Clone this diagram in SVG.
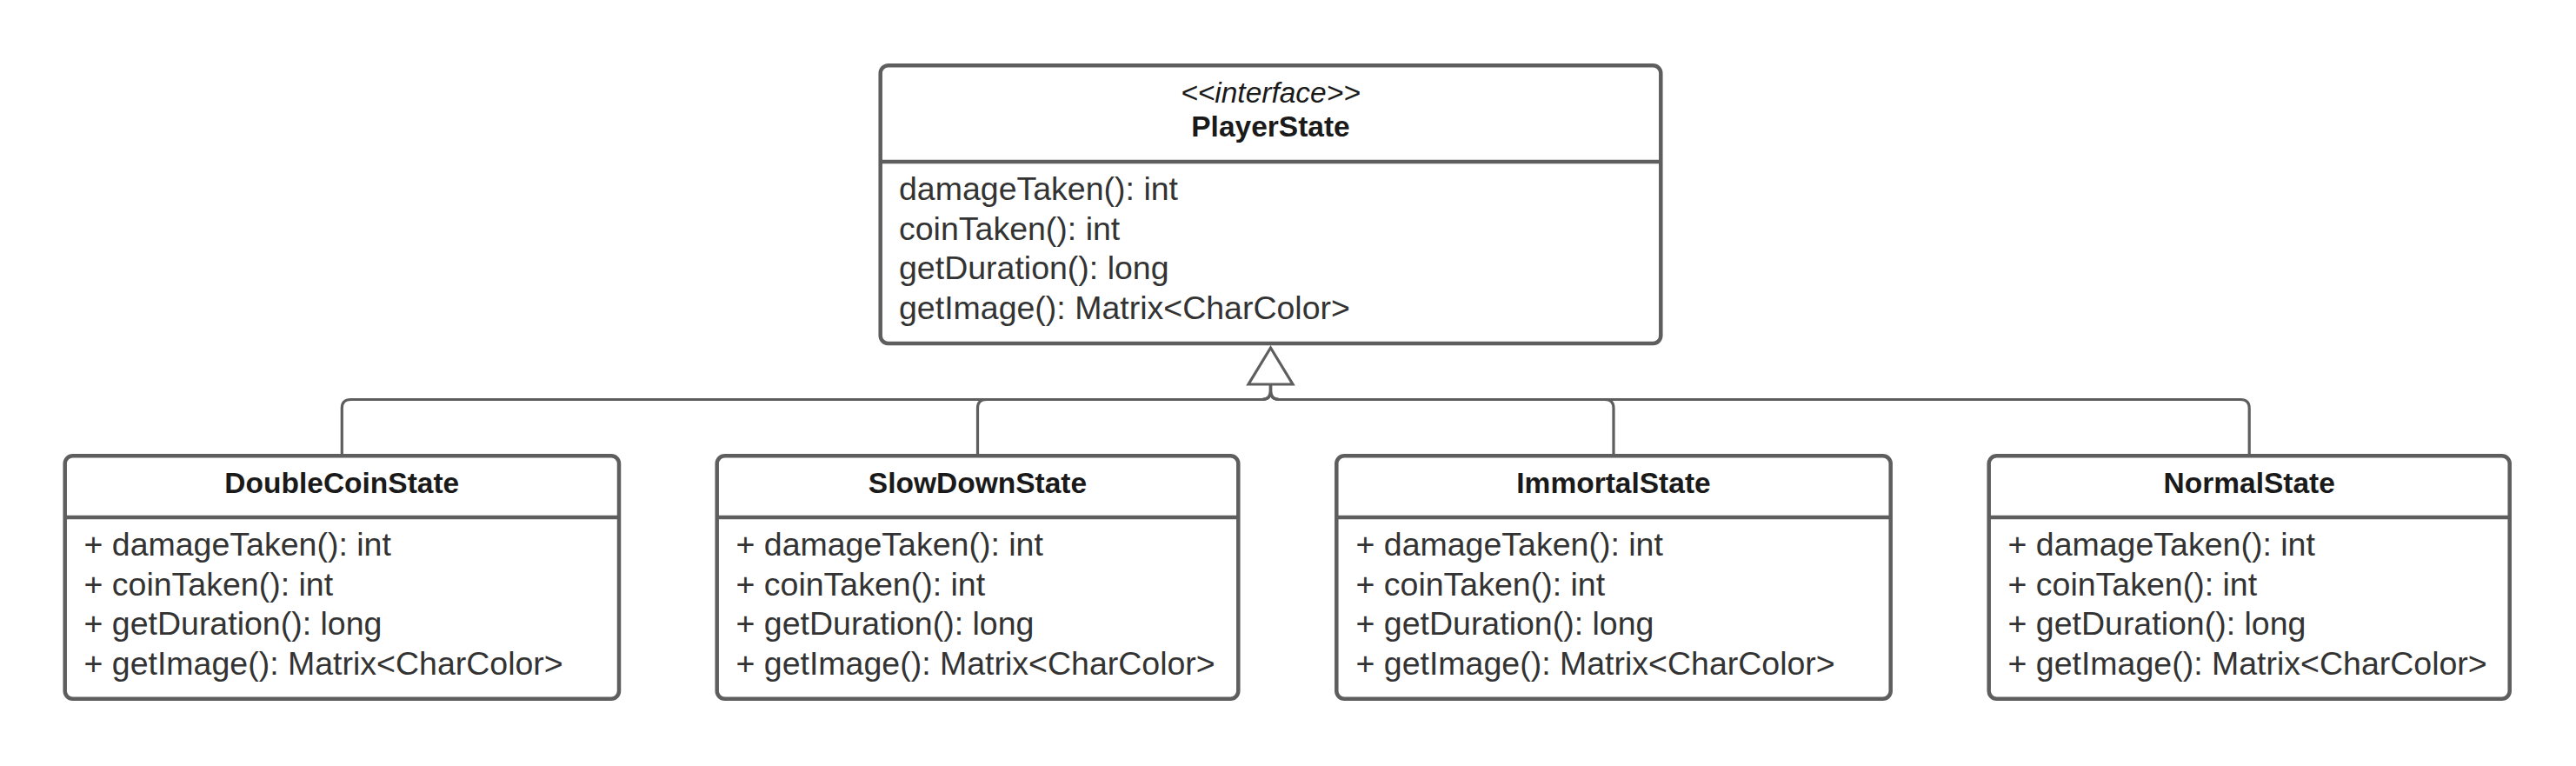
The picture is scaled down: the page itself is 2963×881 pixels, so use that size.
<svg xmlns="http://www.w3.org/2000/svg" width="2963" height="881" viewBox="0 0 2963 881">
<style>
.box{fill:#fff;stroke:#5e5e5e;stroke-width:4.5}
.div{stroke:#5e5e5e;stroke-width:4.5}
.conn{fill:none;stroke:#5e5e5e;stroke-width:3.2}
.tri{fill:#fff;stroke:#5e5e5e;stroke-width:3.2;stroke-linejoin:miter}
.t{font-family:"Liberation Sans",Arial,sans-serif;font-size:37.5px;fill:#333}
.h{font-family:"Liberation Sans",Arial,sans-serif;font-size:33.5px;font-weight:bold;fill:#1a1a1a;text-anchor:middle}
.s{font-family:"Liberation Sans",Arial,sans-serif;font-size:33.5px;font-style:italic;fill:#1a1a1a;text-anchor:middle}
</style>
<rect width="2963" height="881" fill="#fff"/>
<g id="connectors">
<path class="conn" d="M393.3 524 V469.5 Q393.3 459.5 403.3 459.5 H1451.5 Q1461.5 459.5 1461.5 449.5 V442"/>
<path class="conn" d="M1124.5 524 V469.5 Q1124.5 459.5 1134.5 459.5 H1451.5 Q1461.5 459.5 1461.5 449.5 V442"/>
<path class="conn" d="M1856 524 V469.5 Q1856 459.5 1846 459.5 H1471.5 Q1461.5 459.5 1461.5 449.5 V442"/>
<path class="conn" d="M2587.2 524 V469.5 Q2587.2 459.5 2577.2 459.5 H1471.5 Q1461.5 459.5 1461.5 449.5 V442"/>
<polygon class="tri" points="1461.5,400 1436,442 1487,442"/>
</g>
<g id="PlayerState">
<rect class="box" x="1012.7" y="75.3" width="897.6" height="319.7" rx="9"/>
<line class="div" x1="1012.7" y1="186" x2="1910.3" y2="186"/>
<text class="s" x="1461.5" y="117.5">&lt;&lt;interface&gt;&gt;</text>
<text class="h" x="1461.5" y="157">PlayerState</text>
<text class="t" x="1034" y="230">damageTaken(): int</text>
<text class="t" x="1034" y="275.5">coinTaken(): int</text>
<text class="t" x="1034" y="321">getDuration(): long</text>
<text class="t" x="1034" y="366.5">getImage(): Matrix&lt;CharColor&gt;</text>
</g>
<g id="DoubleCoinState">
<rect class="box" x="74.7" y="524.3" width="637.3" height="279.4" rx="9"/>
<line class="div" x1="74.7" y1="595" x2="712" y2="595"/>
<text class="h" x="393.3" y="567">DoubleCoinState</text>
<text class="t" x="96.5" y="639">+ damageTaken(): int</text>
<text class="t" x="96.5" y="684.5">+ coinTaken(): int</text>
<text class="t" x="96.5" y="730">+ getDuration(): long</text>
<text class="t" x="96.5" y="775.5">+ getImage(): Matrix&lt;CharColor&gt;</text>
</g>
<g id="SlowDownState">
<rect class="box" x="824.7" y="524.3" width="599.6" height="279.4" rx="9"/>
<line class="div" x1="824.7" y1="595" x2="1424.3" y2="595"/>
<text class="h" x="1124.5" y="567">SlowDownState</text>
<text class="t" x="846.5" y="639">+ damageTaken(): int</text>
<text class="t" x="846.5" y="684.5">+ coinTaken(): int</text>
<text class="t" x="846.5" y="730">+ getDuration(): long</text>
<text class="t" x="846.5" y="775.5">+ getImage(): Matrix&lt;CharColor&gt;</text>
</g>
<g id="ImmortalState">
<rect class="box" x="1537.3" y="524.3" width="637.4" height="279.4" rx="9"/>
<line class="div" x1="1537.3" y1="595" x2="2174.7" y2="595"/>
<text class="h" x="1856" y="567">ImmortalState</text>
<text class="t" x="1559.5" y="639">+ damageTaken(): int</text>
<text class="t" x="1559.5" y="684.5">+ coinTaken(): int</text>
<text class="t" x="1559.5" y="730">+ getDuration(): long</text>
<text class="t" x="1559.5" y="775.5">+ getImage(): Matrix&lt;CharColor&gt;</text>
</g>
<g id="NormalState">
<rect class="box" x="2287.7" y="524.3" width="599" height="279.4" rx="9"/>
<line class="div" x1="2287.7" y1="595" x2="2886.7" y2="595"/>
<text class="h" x="2587.2" y="567">NormalState</text>
<text class="t" x="2309.5" y="639">+ damageTaken(): int</text>
<text class="t" x="2309.5" y="684.5">+ coinTaken(): int</text>
<text class="t" x="2309.5" y="730">+ getDuration(): long</text>
<text class="t" x="2309.5" y="775.5">+ getImage(): Matrix&lt;CharColor&gt;</text>
</g>
</svg>
